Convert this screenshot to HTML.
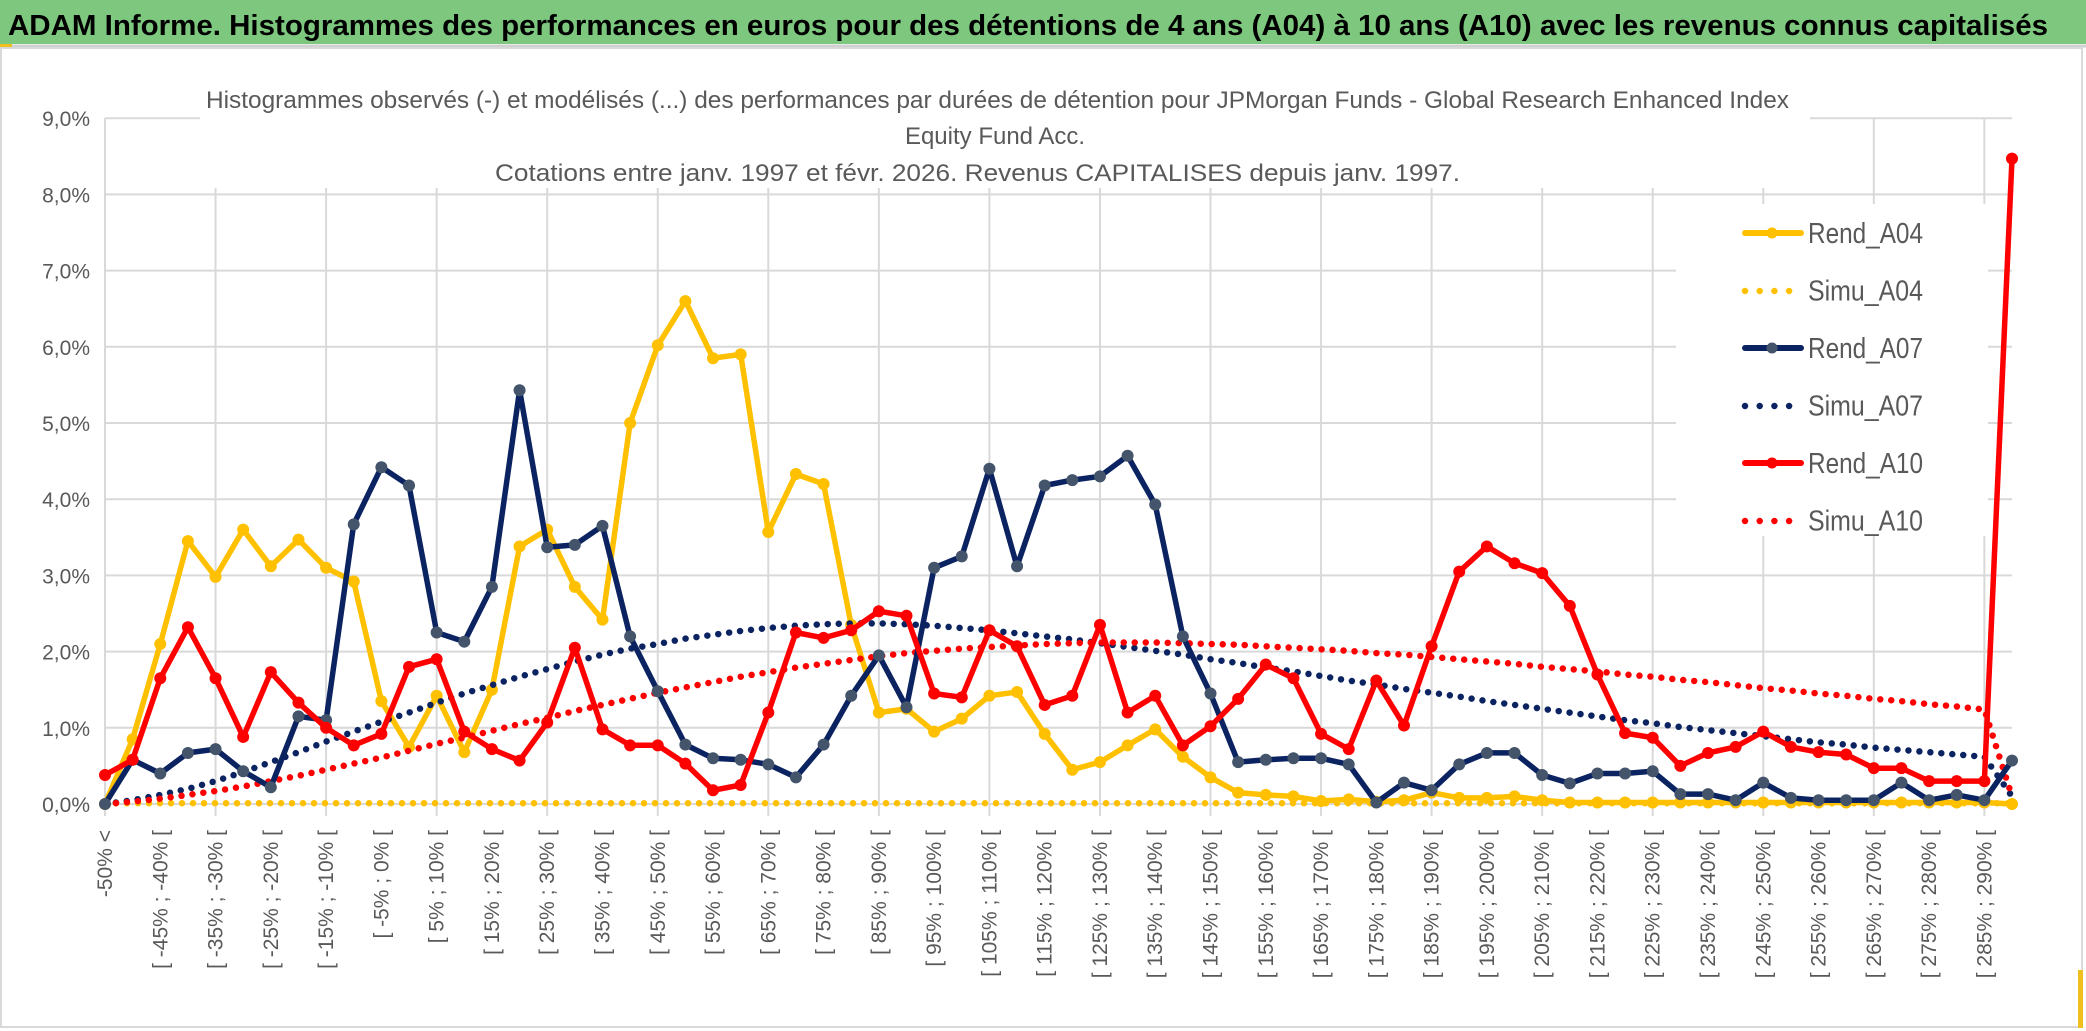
<!DOCTYPE html>
<html><head><meta charset="utf-8"><style>
html,body{margin:0;padding:0;background:#fff;}
svg{display:block;font-family:"Liberation Sans",sans-serif;}
</style></head><body>
<svg id="chart" width="2086" height="1031" viewBox="0 0 2086 1031" xmlns="http://www.w3.org/2000/svg">
<rect x="0" y="0" width="2086" height="1031" fill="#fff"/>
<rect x="0" y="0" width="2086" height="44" fill="#7dc87e"/>
<line x1="0" y1="46" x2="2086" y2="46" stroke="#d0d0d0" stroke-width="3"/>
<rect x="0" y="44" width="12" height="4" fill="#f0c020"/>
<text x="8" y="35" font-size="29" font-weight="bold" fill="#000" textLength="2040" lengthAdjust="spacingAndGlyphs">ADAM Informe. Histogrammes des performances en euros pour des détentions de 4 ans (A04) à 10 ans (A10) avec les revenus connus capitalisés</text>
<rect x="1" y="48" width="2081" height="979" fill="none" stroke="#d9d9d9" stroke-width="2"/>
<rect x="2078" y="970" width="5" height="58" fill="#f0c020"/>
<g id="grid"></g>
<rect x="200" y="62" width="1610" height="126" fill="#fff"/>
<g fill="#595959" font-size="24">
<text x="206" y="108" textLength="1583" lengthAdjust="spacingAndGlyphs">Histogrammes observés (-) et modélisés (...) des performances par durées de détention pour JPMorgan Funds - Global Research Enhanced Index</text>
<text x="995" y="144" text-anchor="middle">Equity Fund Acc.</text>
<text x="495" y="181" textLength="965" lengthAdjust="spacingAndGlyphs">Cotations entre janv. 1997 et févr. 2026. Revenus CAPITALISES depuis janv. 1997.</text>
</g>
<g id="yaxis"></g>
<g id="xaxis"></g>
<g id="series"></g>
<rect x="1676" y="204" width="312" height="332" fill="#fff"/>
<g id="legend"></g>
</svg>
<script>
const categories = (function(){const a=["-50% <"];for(let i=-50;i<295;i+=5){a.push("[ "+i+"% ; "+(i+5)+"% [");}return a;})();
const yTicks = [0,1,2,3,4,5,6,7,8,9];
const rendA04 = [0,0.85,2.1,3.45,2.98,3.6,3.12,3.47,3.1,2.92,1.35,0.75,1.42,0.68,1.5,3.38,3.6,2.85,2.42,5.0,6.02,6.6,5.85,5.9,3.57,4.33,4.2,2.35,1.2,1.25,0.95,1.12,1.42,1.47,0.92,0.45,0.55,0.77,0.98,0.62,0.35,0.15,0.12,0.1,0.04,0.06,0.03,0.05,0.15,0.08,0.08,0.1,0.05,0.02,0.02,0.02,0.02,0.02,0.02,0.02,0.02,0.02,0.02,0.02,0.02,0.02,0.02,0.02,0.02,0.0];
const simuA04 = new Array(70).fill(0.01);
const rendA07 = [0,0.58,0.4,0.67,0.72,0.43,0.22,1.15,1.1,3.67,4.42,4.18,2.25,2.13,2.85,5.43,3.37,3.4,3.65,2.2,1.48,0.78,0.6,0.58,0.52,0.35,0.78,1.42,1.95,1.27,3.1,3.25,4.4,3.12,4.18,4.25,4.3,4.57,3.93,2.2,1.45,0.55,0.58,0.6,0.6,0.52,0.02,0.28,0.18,0.52,0.67,0.67,0.38,0.27,0.4,0.4,0.43,0.13,0.13,0.05,0.28,0.08,0.05,0.05,0.05,0.28,0.05,0.12,0.05,0.57];
const simuA07 = [0,0.05,0.12,0.2,0.3,0.42,0.55,0.68,0.82,0.95,1.08,1.2,1.33,1.45,1.56,1.67,1.77,1.87,1.96,2.04,2.1,2.17,2.22,2.27,2.31,2.34,2.36,2.37,2.37,2.36,2.34,2.31,2.28,2.24,2.2,2.16,2.11,2.06,2.01,1.96,1.9,1.85,1.79,1.74,1.68,1.62,1.57,1.51,1.46,1.41,1.35,1.3,1.25,1.2,1.15,1.1,1.06,1.01,0.97,0.93,0.89,0.85,0.81,0.78,0.74,0.71,0.68,0.65,0.62,0.1];
const rendA10 = [0.38,0.58,1.65,2.32,1.65,0.88,1.73,1.33,1.0,0.77,0.92,1.8,1.9,0.95,0.72,0.57,1.07,2.05,0.98,0.77,0.77,0.53,0.18,0.25,1.2,2.25,2.18,2.28,2.53,2.47,1.45,1.4,2.28,2.07,1.3,1.42,2.35,1.2,1.42,0.77,1.02,1.38,1.83,1.65,0.92,0.72,1.62,1.03,2.07,3.05,3.38,3.16,3.03,2.6,1.7,0.93,0.87,0.5,0.67,0.75,0.95,0.75,0.68,0.65,0.47,0.47,0.3,0.3,0.3,8.47];
const simuA10 = [0,0.03,0.07,0.12,0.17,0.23,0.3,0.37,0.45,0.53,0.61,0.7,0.79,0.87,0.96,1.05,1.13,1.22,1.3,1.38,1.46,1.53,1.6,1.67,1.73,1.79,1.84,1.89,1.94,1.98,2.01,2.04,2.06,2.08,2.1,2.11,2.12,2.12,2.12,2.11,2.1,2.09,2.07,2.05,2.03,2.01,1.98,1.96,1.93,1.9,1.87,1.84,1.8,1.77,1.74,1.7,1.67,1.63,1.6,1.56,1.52,1.49,1.45,1.42,1.38,1.35,1.31,1.28,1.24,0.1];
const seriesNames = ["Rend_A04","Simu_A04","Rend_A07","Simu_A07","Rend_A10","Simu_A10"];

const NS="http://www.w3.org/2000/svg";
const X0=105, X1=2012, Y0=804, PER=76.2;
const n=categories.length;
function xs(i){return X0+(X1-X0)*i/(n-1);}
function ys(v){return Y0-v*PER;}
function mk(tag,attrs,parent){const e=document.createElementNS(NS,tag);for(const k in attrs)e.setAttribute(k,attrs[k]);parent.appendChild(e);return e;}

const grid=document.getElementById('grid');
yTicks.forEach(t=>{
  const l=mk('line',{x1:X0,x2:X1,y1:ys(t),y2:ys(t),stroke:'#d9d9d9','stroke-width':2},grid);
  
  
});
for(let i=0;i<n;i+=4){
  const l=mk('line',{x1:xs(i),x2:xs(i),y1:ys(9),y2:Y0+12,stroke:'#d9d9d9','stroke-width':2},grid);
  
  
}
const yax=document.getElementById('yaxis');
yTicks.forEach(t=>{
  const tx=mk('text',{x:90,y:ys(t)+8,'text-anchor':'end','font-size':21,fill:'#595959'},yax);
  tx.textContent=t.toFixed(1).replace('.',',')+'%';
  
  
});
const xax=document.getElementById('xaxis');
for(let i=0;i<n;i+=2){
  const x=xs(i)+7, y=830;
  const tx=mk('text',{x:x,y:y,transform:'rotate(-90 '+x+' '+y+')','text-anchor':'end','font-size':21,fill:'#595959'},xax);
  tx.textContent=categories[i];
  
  
}
const ser=document.getElementById('series');
function drawSeries(vals,color,dotted,markerColor,name){
  const g=mk('g',{},ser);
  
  
  const pts=vals.map((v,i)=>xs(i).toFixed(1)+','+ys(v).toFixed(1)).join(' ');
  if(dotted){
    const p=mk('polyline',{points:pts,fill:'none',stroke:color,'stroke-width':6.5,'stroke-linecap':'round','stroke-dasharray':'0 11'},g);
    
    
  } else {
    const p=mk('polyline',{points:pts,fill:'none',stroke:color,'stroke-width':5.5,'stroke-linejoin':'round'},g);
    
    
    vals.forEach((v,i)=>{
      const c=mk('circle',{cx:xs(i),cy:ys(v),r:6,fill:markerColor},g);
      
      
    });
  }
}
drawSeries(simuA04,'#ffc000',true,null,'simu-a04');
drawSeries(rendA04,'#ffc000',false,'#ffc000','rend-a04');
drawSeries(simuA07,'#0b2461',true,null,'simu-a07');
drawSeries(simuA10,'#ff0000',true,null,'simu-a10');
drawSeries(rendA07,'#0b2461',false,'#44546a','rend-a07');
drawSeries(rendA10,'#ff0000',false,'#ff0000','rend-a10');

const leg=document.getElementById('legend');
const legColors=['#ffc000','#ffc000','#0b2461','#0b2461','#ff0000','#ff0000'];
const legMarker=['#ffc000',null,'#44546a',null,'#ff0000',null];
seriesNames.forEach((nm,k)=>{
  const cy=233+k*57.5;
  const g=mk('g',{},leg);
  
  
  if(k%2===0){
    mk('line',{x1:1745,x2:1801,y1:cy,y2:cy,stroke:legColors[k],'stroke-width':6,'stroke-linecap':'round'},g);
    mk('circle',{cx:1772,cy:cy,r:5.5,fill:legMarker[k]},g);
  } else {
    mk('line',{x1:1745,x2:1792,y1:cy+0.5,y2:cy+0.5,stroke:legColors[k],'stroke-width':6.5,'stroke-linecap':'round','stroke-dasharray':'0 14.7'},g);
  }
  const t=mk('text',{x:1808,y:cy+10,'font-size':29,fill:'#595959',textLength:115,lengthAdjust:'spacingAndGlyphs'},g);
  t.textContent=nm;
});
</script>
</body></html>
